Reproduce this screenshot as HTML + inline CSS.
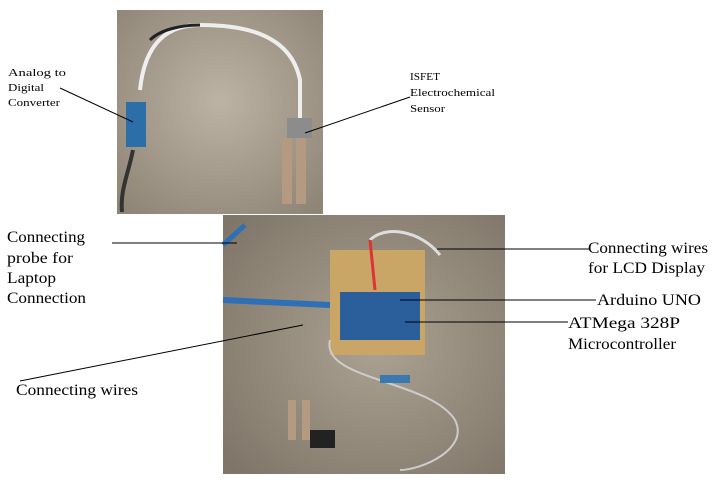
<!DOCTYPE html>
<html><head><meta charset="utf-8"><style>
html,body{margin:0;padding:0;background:#fff;width:719px;height:494px;overflow:hidden}
svg{display:block}
text{font-family:"Liberation Serif",serif;fill:#000}
</style></head><body>
<svg width="719" height="494" viewBox="0 0 719 494" xmlns="http://www.w3.org/2000/svg">
<defs>
<radialGradient id="g1" cx="50%" cy="45%" r="70%"><stop offset="0" stop-color="#bdb3a5"/><stop offset="1" stop-color="#8f8577"/></radialGradient>
<radialGradient id="g2" cx="55%" cy="50%" r="70%"><stop offset="0" stop-color="#aca293"/><stop offset="1" stop-color="#7f7669"/></radialGradient>
</defs>
<rect x="117" y="10" width="206" height="204" fill="url(#g1)"/>
<path d="M140 90 C145 40 170 25 200 25 C235 25 290 30 300 80 L300 120" stroke="#eee" stroke-width="4" fill="none"/>
<path d="M200 25 C180 25 160 30 150 40" stroke="#222" stroke-width="3" fill="none"/>
<path d="M133 150 C128 175 120 190 122 212" stroke="#333" stroke-width="4" fill="none"/>
<rect x="126" y="102" width="20" height="45" fill="#2c6fa8"/>
<rect x="287" y="118" width="25" height="20" fill="#8c8c8c"/>
<rect x="282" y="138" width="10" height="66" fill="#b49a80"/>
<rect x="296" y="138" width="10" height="66" fill="#b49a80"/>
<rect x="223" y="215" width="282" height="259" fill="url(#g2)"/>
<path d="M223 245 L245 225" stroke="#2f6fb5" stroke-width="5" fill="none"/>
<path d="M223 300 L330 305" stroke="#2f6fb5" stroke-width="6" fill="none"/>
<rect x="330" y="250" width="95" height="105" fill="#c9a566"/>
<rect x="340" y="292" width="80" height="48" fill="#2a5f9c"/>
<path d="M370 240 C385 225 420 230 440 255" stroke="#ddd" stroke-width="3" fill="none"/>
<path d="M370 240 L375 290" stroke="#d33" stroke-width="3" fill="none"/>
<path d="M330 340 C320 380 430 380 455 420 C470 450 420 470 400 470" stroke="#ccc" stroke-width="2" fill="none"/>
<rect x="380" y="375" width="30" height="8" fill="#3a78b0"/>
<rect x="310" y="430" width="25" height="18" fill="#222"/>
<rect x="288" y="400" width="8" height="40" fill="#b49a80"/>
<rect x="302" y="400" width="8" height="40" fill="#b49a80"/>
<g stroke="#000" stroke-width="1">
<line x1="60" y1="88" x2="133" y2="122"/>
<line x1="410" y1="97" x2="305" y2="133"/>
<line x1="112" y1="243" x2="237" y2="243"/>
<line x1="437" y1="249" x2="590" y2="249"/>
<line x1="400" y1="300" x2="596" y2="300"/>
<line x1="405" y1="322" x2="568" y2="322"/>
<line x1="20" y1="381" x2="303" y2="325"/>
</g>
<g lengthAdjust="spacingAndGlyphs">
<text font-size="11" x="8" y="76" textLength="58" lengthAdjust="spacingAndGlyphs">Analog to</text>
<text font-size="11" x="8" y="91" textLength="36" lengthAdjust="spacingAndGlyphs">Digital</text>
<text font-size="11" x="8" y="106" textLength="52" lengthAdjust="spacingAndGlyphs">Converter</text>
<text font-size="11" x="410" y="80" textLength="30" lengthAdjust="spacingAndGlyphs">ISFET</text>
<text font-size="11" x="410" y="96" textLength="85" lengthAdjust="spacingAndGlyphs">Electrochemical</text>
<text font-size="11" x="410" y="112" textLength="35" lengthAdjust="spacingAndGlyphs">Sensor</text>
<text font-size="16" x="7" y="242" textLength="78" lengthAdjust="spacingAndGlyphs">Connecting</text>
<text font-size="16" x="7" y="263" textLength="66" lengthAdjust="spacingAndGlyphs">probe for</text>
<text font-size="16" x="7" y="283" textLength="49" lengthAdjust="spacingAndGlyphs">Laptop</text>
<text font-size="16" x="7" y="303" textLength="79" lengthAdjust="spacingAndGlyphs">Connection</text>
<text font-size="16" x="588" y="253" textLength="120" lengthAdjust="spacingAndGlyphs">Connecting wires</text>
<text font-size="16" x="588" y="273" textLength="117" lengthAdjust="spacingAndGlyphs">for LCD Display</text>
<text font-size="16" x="597" y="305" textLength="104" lengthAdjust="spacingAndGlyphs">Arduino UNO</text>
<text font-size="16" x="568" y="328" textLength="112" lengthAdjust="spacingAndGlyphs">ATMega 328P</text>
<text font-size="16" x="568" y="349" textLength="108" lengthAdjust="spacingAndGlyphs">Microcontroller</text>
<text font-size="16" x="16" y="395" textLength="122" lengthAdjust="spacingAndGlyphs">Connecting wires</text>
</g>
</svg>
</body></html>
